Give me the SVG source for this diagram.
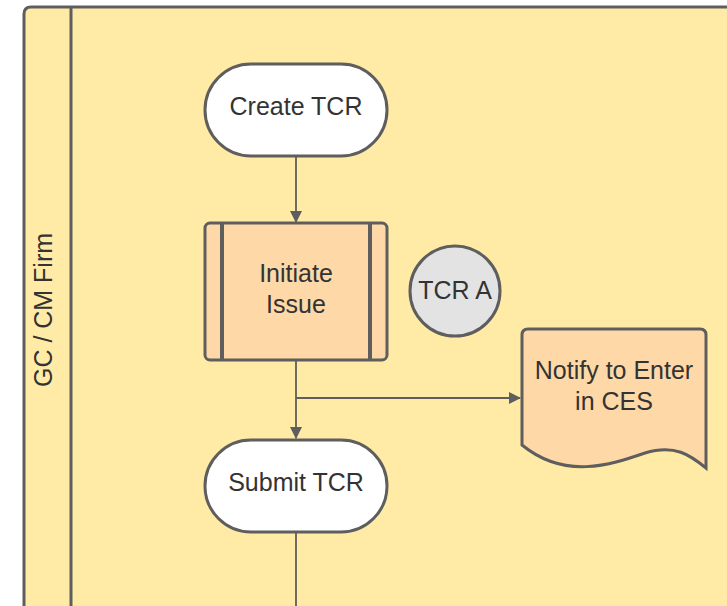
<svg xmlns="http://www.w3.org/2000/svg" width="727" height="606" viewBox="0 0 727 606">
<defs>
<style>
.shape{stroke:#5e5e5e;stroke-width:3}
.conn{stroke:#5e5e5e;stroke-width:1.8;fill:none}
text{font-family:"Liberation Sans",Arial,sans-serif;font-size:25px;fill:#333333;text-anchor:middle}
</style>
<marker id="arr" viewBox="0 0 12 12" refX="11" refY="6" markerWidth="12" markerHeight="12" markerUnits="userSpaceOnUse" orient="auto">
<path d="M0,0 L12,6 L0,12 Z" fill="#5e5e5e"/>
</marker>
</defs>
<rect width="727" height="606" fill="#ffffff"/>
<g id="lane">
<path d="M24,620 L24,14 Q24,7 31,7 L740,7 L740,620 Z" fill="#ffeaa6" class="shape"/>
<line x1="71" y1="7" x2="71" y2="620" class="shape"/>
<text transform="translate(52,310) rotate(-90)">GC / CM Firm</text>
</g>
<g id="connectors">
<line x1="296" y1="157" x2="296" y2="222" class="conn" marker-end="url(#arr)"/>
<line x1="296" y1="361" x2="296" y2="438" class="conn" marker-end="url(#arr)"/>
<line x1="296" y1="398" x2="520" y2="398" class="conn" marker-end="url(#arr)"/>
<line x1="296" y1="532" x2="296" y2="610" class="conn"/>
</g>
<g id="create-tcr">
<rect x="205" y="64" width="182" height="92" rx="46" fill="#ffffff" class="shape"/>
<text x="296" y="115">Create TCR</text>
</g>
<g id="initiate-issue">
<rect x="205" y="223" width="182" height="137" rx="5" fill="#fed8a6" class="shape"/>
<line x1="222" y1="224" x2="222" y2="359" stroke="#5e5e5e" stroke-width="4"/>
<line x1="370" y1="224" x2="370" y2="359" stroke="#5e5e5e" stroke-width="4"/>
<text x="296" y="282">Initiate</text>
<text x="296" y="313">Issue</text>
</g>
<g id="tcr-a">
<circle cx="455" cy="291" r="45" fill="#e3e3e3" class="shape"/>
<text x="455" y="299">TCR A</text>
</g>
<g id="notify">
<path d="M522,445 L522,335 Q522,329 528,329 L700,329 Q706,329 706,335 L706,468 C690,455 675,444 645,453 C610,465 565,480 522,445 Z" fill="#fed8a6" class="shape"/>
<text x="614" y="379">Notify to Enter</text>
<text x="614" y="410">in CES</text>
</g>
<g id="submit-tcr">
<rect x="205" y="440" width="182" height="92" rx="46" fill="#ffffff" class="shape"/>
<text x="296" y="491">Submit TCR</text>
</g>
</svg>
